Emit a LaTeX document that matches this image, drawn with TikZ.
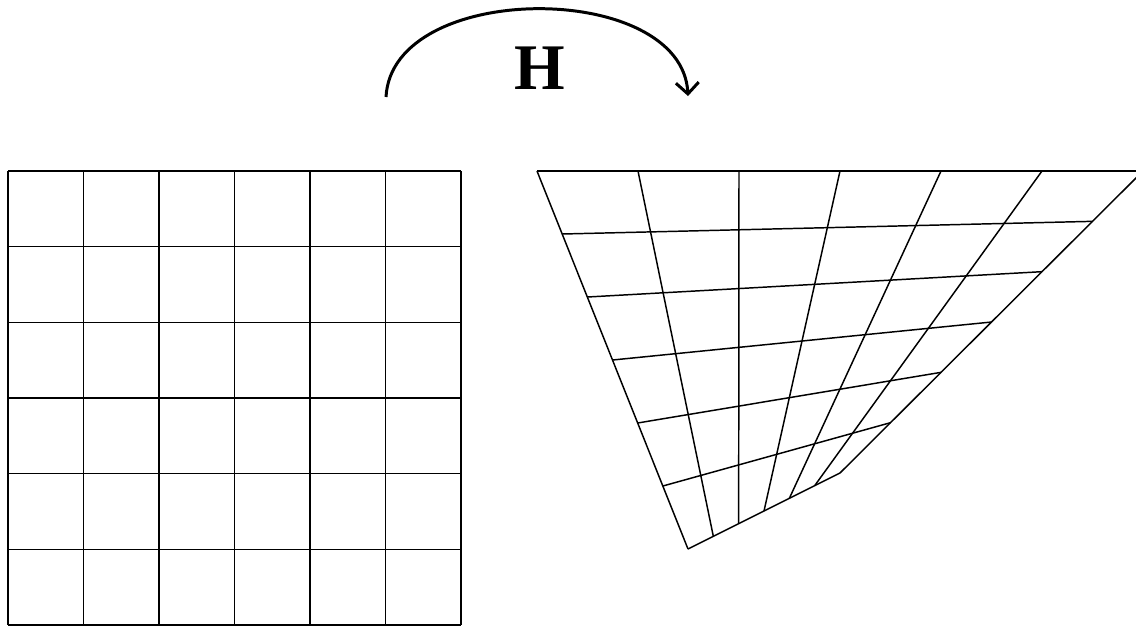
\documentclass[tikz,border=0pt]{standalone}
\usepackage{fontspec}
\setmainfont{Liberation Serif}
\usetikzlibrary{arrows.meta, calc, positioning}

\begin{document}
\begin{tikzpicture}[x=0.01cm, y=-0.01cm, line width=0.42pt]

      \useasboundingbox (0,0) rectangle (1136,626);
      \clip (0,0) rectangle (1136,626);

      % Original square grid
      \foreach \i in {0,...,6}
      {
        \draw ({8+\i*75.5},171) -- ({8+\i*75.5},625);
        \draw (8,{171+\i*75.67}) -- (461,{171+\i*75.67});
      }

      % Corners of the warped grid
      \coordinate (tl) at (537,171);
      \coordinate (tr) at (1143,171);
      \coordinate (br) at (840,473);
      \coordinate (bl) at (688,549);

      % Warped grid lines
      \foreach \i in {0,...,6}
      {
        \draw ($(tl)!\i/6!(tr)$) -- ($(bl)!\i/6!(br)$);
        \draw ($(tl)!\i/6!(bl)$) -- ($(tr)!\i/6!(br)$);
      }

      % Mapping arrow
      \coordinate (from) at (386,97);
      \coordinate (to) at (688,96);
      \draw[line width=0.85pt, -{Straight Barb[length=3.2pt,width=6.5pt]}]
        (from) .. controls (392,-20) and (682,-20) .. (to);
      \node[font=\fontsize{18.5}{20}\selectfont\bfseries] (H) at (540,68) {H};

\end{tikzpicture}
\end{document}
